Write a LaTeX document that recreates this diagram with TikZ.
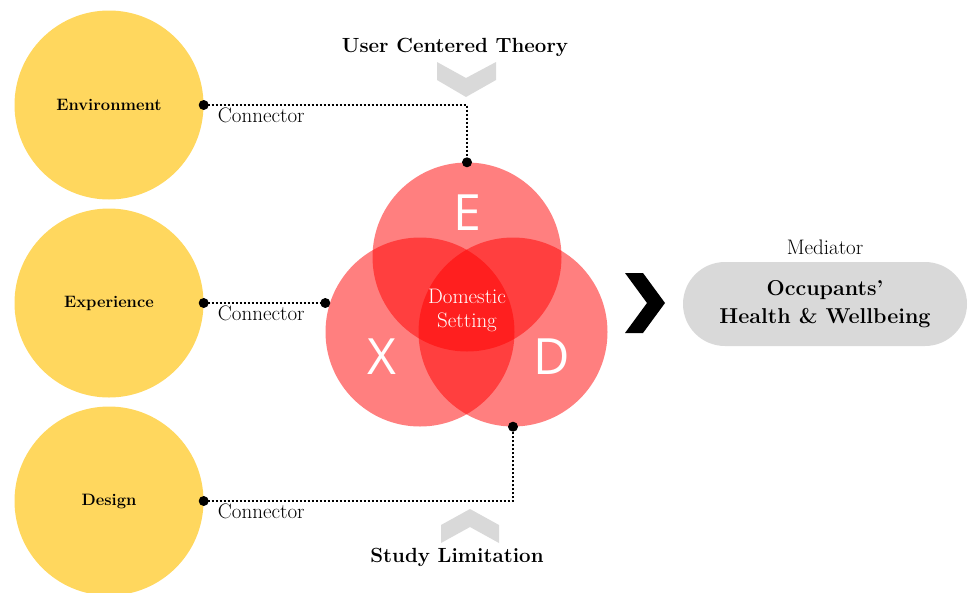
\documentclass[tikz,border=0pt]{standalone}
\usepackage{fontspec}
\newfontfamily\vennfont{Open Sans}
\usepackage{xcolor}
\usepackage{tikz}
\usetikzlibrary{positioning}
\definecolor{sunyellow}{HTML}{FFD75E}
\definecolor{chevgray}{HTML}{D9D9D9}

\begin{document}
\begin{tikzpicture}[x=1pt,y=-1pt,
  factor/.style={circle,fill=sunyellow,minimum size=189pt,inner sep=0pt,font=\fontsize{16.5}{19}\selectfont\bfseries},
  venn/.style={circle,fill=red,fill opacity=0.5,minimum size=189pt,inner sep=0pt},
  letter/.style={text=white,font=\vennfont\fontsize{50}{50}\selectfont},
  conn/.style={dotted,line width=2pt},
  connlabel/.style={anchor=north west,inner sep=0pt,font=\fontsize{21}{23}\selectfont},
  heading/.style={font=\fontsize{20.5}{24}\selectfont\bfseries}]
\useasboundingbox (0,0) rectangle (969,592);
\node[factor] (env) at (109,105) {Environment};
\node[factor] (exp) at (109,303) {Experience};
\node[factor] (des) at (109,501) {Design};
\node[venn] (E) at (467,257) {};
\node[venn] (X) at (420,332) {};
\node[venn] (D) at (513,332) {};
\node[letter] (eL) at (467,213) {E};
\node[letter] (xL) at (382,357) {X};
\node[letter] (dL) at (552,357) {D};
\node[text=white,align=center,font=\fontsize{21}{24}\selectfont] (home) at (467,310) {Domestic\\Setting};
\coordinate (xin) at (exp.east -| X.west);
\draw[conn] (env.east) -| (E.north);
\draw[conn] (exp.east) -- (xin);
\draw[conn] (des.east) -| (D.south);
\foreach \p in {env.east,E.north,exp.east,xin,des.east,D.south}
  \fill[black] (\p) circle (5);
\node[connlabel] at ([xshift=14pt,yshift=-3pt]env.east) {Connector};
\node[connlabel] at ([xshift=14pt,yshift=-3pt]exp.east) {Connector};
\node[connlabel] at ([xshift=14pt,yshift=-3pt]des.east) {Connector};
\node[heading] (theory) at (455,47) {User Centered Theory};
\node[heading] (limit) at (457,557) {Study Limitation};
\fill[chevgray] (437,62) -- (466,78) -- (496,62) -- (496,80) -- (466,97) -- (437,80) -- cycle;
\fill[chevgray] (441,525) -- (470,509) -- (499,525) -- (499,543) -- (470,527) -- (441,543) -- cycle;
\fill[black] (625,273) -- (643,273) -- (665,303) -- (643,333) -- (625,333) -- (647,303) -- cycle;
\node[fill=chevgray,rounded corners=42pt,minimum width=284pt,minimum height=84pt,align=center,font=\fontsize{21.5}{28}\selectfont\bfseries] (outcome) at (825,304) {Occupants’\\Health \& Wellbeing};
\node[font=\fontsize{21}{22}\selectfont,above=4pt of outcome] (mediator) {Mediator};
\end{tikzpicture}
\end{document}
